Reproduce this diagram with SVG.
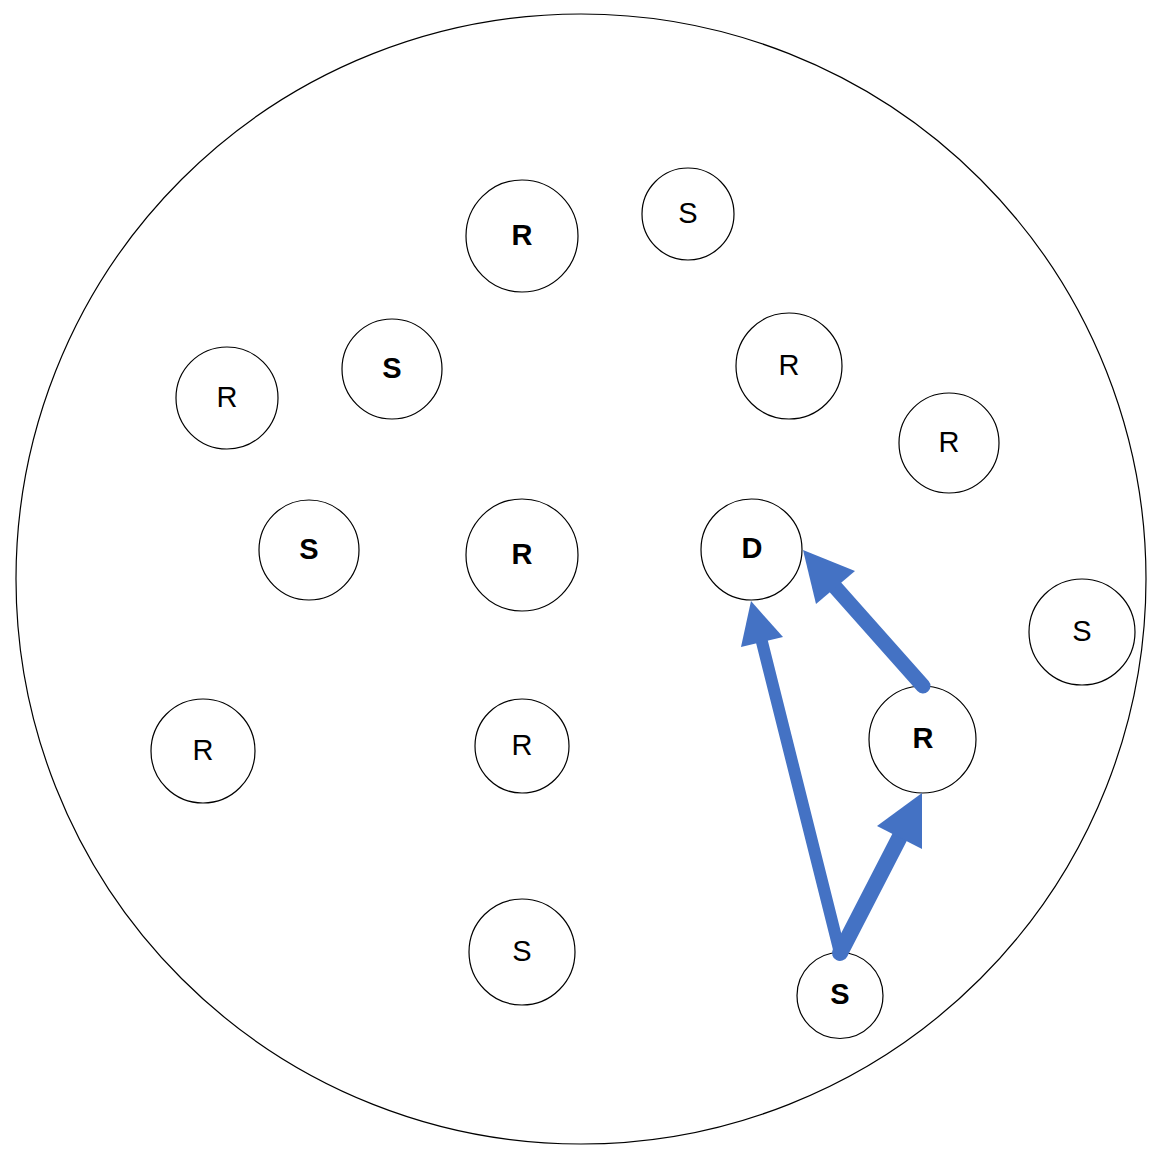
<svg xmlns="http://www.w3.org/2000/svg" width="1164" height="1164" viewBox="0 0 1164 1164">
<style>
.n{fill:#fff;stroke:#000;stroke-width:1.2}
.t{font-family:"Liberation Sans",Arial,sans-serif;font-size:29px;text-anchor:middle;fill:#000}
.b{font-weight:bold}
.e{stroke:#4472C4;stroke-linecap:round;fill:none}
.h{fill:#4472C4}
</style>
<rect width="1164" height="1164" fill="#fff"/>
<circle cx="581" cy="579" r="565" fill="none" stroke="#000" stroke-width="1.2"/>
<g id="n1"><circle class="n" cx="522" cy="236" r="56"/><text class="t b" x="522" y="245">R</text></g>
<g id="n2"><circle class="n" cx="688" cy="214" r="46"/><text class="t" x="688" y="223">S</text></g>
<g id="n3"><circle class="n" cx="789" cy="366" r="53"/><text class="t" x="789" y="375">R</text></g>
<g id="n4"><circle class="n" cx="392" cy="369" r="50"/><text class="t b" x="392" y="378">S</text></g>
<g id="n5"><circle class="n" cx="227" cy="398" r="51"/><text class="t" x="227" y="407">R</text></g>
<g id="n6"><circle class="n" cx="949" cy="443" r="50"/><text class="t" x="949" y="452">R</text></g>
<g id="n7"><circle class="n" cx="309" cy="550" r="50"/><text class="t b" x="309" y="559">S</text></g>
<g id="n8"><circle class="n" cx="522" cy="555" r="56"/><text class="t b" x="522" y="564">R</text></g>
<g id="n9"><circle class="n" cx="751.5" cy="549.5" r="50.5"/><text class="t b" x="752" y="558">D</text></g>
<g id="n10"><circle class="n" cx="1082" cy="632" r="53"/><text class="t" x="1082" y="641">S</text></g>
<g id="n11"><circle class="n" cx="203" cy="751" r="52"/><text class="t" x="203" y="760">R</text></g>
<g id="n12"><circle class="n" cx="522" cy="746" r="47"/><text class="t" x="522" y="755">R</text></g>
<g id="n13"><circle class="n" cx="922.5" cy="739.5" r="53.5"/><text class="t b" x="923" y="748">R</text></g>
<g id="n14"><circle class="n" cx="522" cy="952" r="53"/><text class="t" x="522" y="961">S</text></g>
<g id="n15"><circle class="n" cx="840" cy="995.5" r="43"/><text class="t b" x="840" y="1004">S</text></g>
<g id="connectors">
<line class="e" x1="840" y1="953" x2="762" y2="642" stroke-width="12"/>
<polygon class="h" points="751,601 741,647 783,637"/>
<line class="e" x1="840" y1="953" x2="899.5" y2="837.5" stroke-width="16"/>
<polygon class="h" points="922,793 877,826 922,849"/>
<line class="e" x1="923" y1="686" x2="835.5" y2="587.5" stroke-width="15"/>
<polygon class="h" points="803,550 816,604 855,571"/>
</g>
</svg>
